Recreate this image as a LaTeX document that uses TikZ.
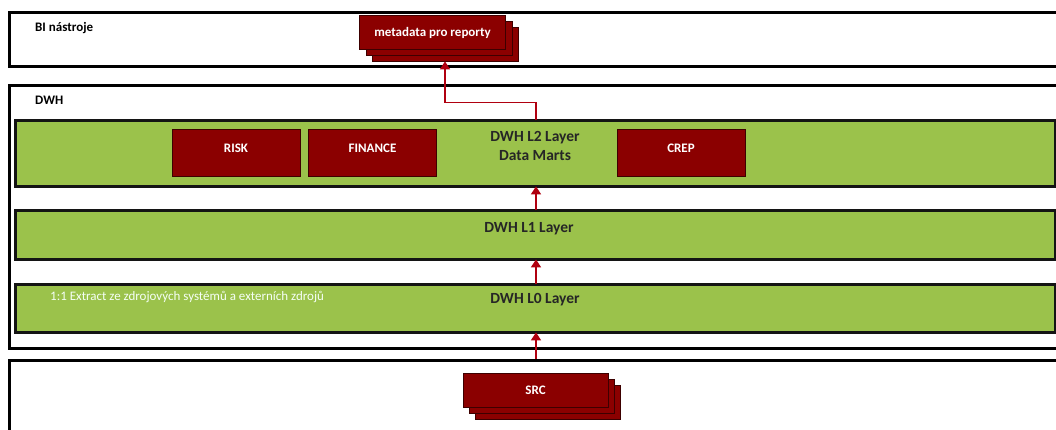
\documentclass[tikz,border=0pt]{standalone}
\usepackage{fontspec}
\setmainfont{Carlito}
\usetikzlibrary{arrows.meta}

\definecolor{mart}{HTML}{8B0000}
\definecolor{martedge}{HTML}{3D0000}
\definecolor{layergreen}{HTML}{9BC24B}
\definecolor{flow}{HTML}{B00010}
\definecolor{ink}{HTML}{262626}

\begin{document}
\begin{tikzpicture}[x=1pt,y=-1pt,
  frame/.style={draw=black, line width=2.6pt, fill=white, anchor=north west,
    inner sep=0pt, minimum width=1090pt},
  layer/.style={draw=black!92, line width=2.8pt, fill=layergreen, anchor=north west,
    inner sep=0pt, minimum width=1040pt},
  caption/.style={anchor=west, inner sep=0pt, text=black,
    font=\bfseries\fontsize{13}{15}\selectfont},
  layertext/.style={inner sep=0pt, text=ink, align=center,
    font=\bfseries\fontsize{15.5}{19}\selectfont},
  martbox/.style={draw=martedge, line width=0.8pt, fill=mart, text=white,
    font=\bfseries\fontsize{13}{15}\selectfont, minimum width=128pt,
    minimum height=47pt, inner sep=0pt, text height=9pt, text depth=9pt},
  stackbox/.style={draw=martedge, line width=0.8pt, fill=mart, text=white,
    font=\bfseries\fontsize{13}{15}\selectfont, minimum width=146pt,
    minimum height=34pt, inner sep=0pt},
  flowarrow/.style={draw=flow, line width=1.6pt,
    -{Triangle[width=10pt,length=8pt]}}
]
\clip (0,0) rectangle (1056,430);
\fill[white] (0,0) rectangle (1056,430);

% outer frames
\node[frame, minimum height=54pt]  (biframe)  at (8,11)  {};
\node[frame, minimum height=263pt] (dwhframe) at (8,84)  {};
\node[frame, minimum height=100pt] (srcframe) at (8,359) {};

\node[caption] (bilabel)  at (35,28)  {BI nástroje};
\node[caption] (dwhlabel) at (35,100) {DWH};

% DWH layers
\node[layer, minimum height=66pt] (l2) at (14,119) {};
\node[layer, minimum height=49pt] (l1) at (14,209) {};
\node[layer, minimum height=48pt] (l0) at (14,283) {};

\node[layertext] (l2text) at (535,146) {DWH L2 Layer\\Data Marts};
\node[layertext] (l1text) at (529,229) {DWH L1 Layer};
\node[layertext] (l0text) at (535,300) {DWH L0 Layer};

\node[anchor=west, inner sep=0pt, text=white!96!green,
  font=\fontsize{13}{15}\selectfont] (extract) at (50,297)
  {1:1 Extract ze zdrojových systémů a externích zdrojů};

% data marts
\node[martbox] (risk)    at (236,152.5)   {RISK};
\node[martbox] (finance) at (372.5,152.5) {FINANCE};
\node[martbox] (crep)    at (681,152.5)   {CREP};

% stacked report metadata
\node[stackbox] (metaC) at (445,44)   {};
\node[stackbox] (metaB) at (439,38.5) {};
\node[stackbox] (metaA) at (432.5,32.5) {metadata pro reporty};

% stacked sources
\node[stackbox, minimum width=145pt] (srcC) at (547.5,402) {};
\node[stackbox, minimum width=145pt] (srcB) at (541.5,396) {};
\node[stackbox, minimum width=145pt] (srcA) at (535.5,390) {SRC};

% data flow
\coordinate (ax) at (536,0);
\draw[flowarrow] (srcframe.north -| ax) -- ([yshift=1.4pt]l0.south -| ax);
\draw[flowarrow] ([yshift=-1.4pt]l0.north -| ax) -- ([yshift=1.4pt]l1.south -| ax);
\draw[flowarrow] ([yshift=-1.4pt]l1.north -| ax) -- ([yshift=1.4pt]l2.south -| ax);
\draw[flowarrow] ([yshift=-1.4pt]l2.north -| ax) -- ++(0,-18) -| (metaC.south);
\end{tikzpicture}
\end{document}
